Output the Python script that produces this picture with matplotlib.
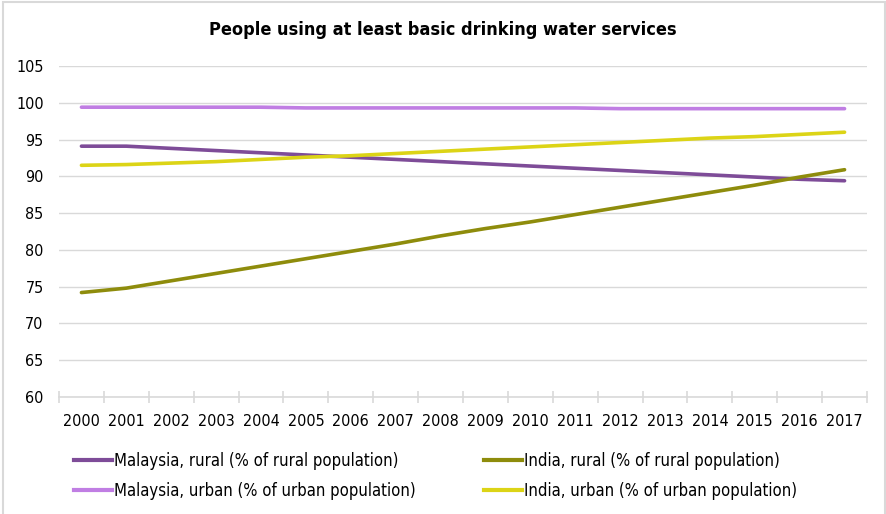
import numpy as np
import matplotlib
matplotlib.use("Agg")
from matplotlib import pyplot as plt
from matplotlib.patches import Rectangle
from matplotlib.lines import Line2D

plt.rcParams['font.family'] = ['DejaVu Sans']
plt.rcParams['font.stretch'] = 'condensed'

years = list(range(2000, 2018))
malaysia_rural = [94.1, 94.1, 93.8, 93.5, 93.2, 92.9, 92.6, 92.3, 92.0,
                  91.7, 91.4, 91.1, 90.8, 90.5, 90.2, 89.9, 89.6, 89.4]
malaysia_urban = [99.4, 99.4, 99.4, 99.4, 99.4, 99.3, 99.3, 99.3, 99.3,
                  99.3, 99.3, 99.3, 99.2, 99.2, 99.2, 99.2, 99.2, 99.2]
india_rural = [74.2, 74.8, 75.8, 76.8, 77.8, 78.8, 79.8, 80.8, 81.9,
               82.9, 83.8, 84.8, 85.8, 86.8, 87.8, 88.8, 89.9, 90.9]
india_urban = [91.5, 91.6, 91.8, 92.0, 92.3, 92.6, 92.8, 93.1, 93.4,
               93.7, 94.0, 94.3, 94.6, 94.9, 95.2, 95.4, 95.7, 96.0]

labels = ["Malaysia, rural (% of rural population)",
          "Malaysia, urban (% of urban population)",
          "India, rural (% of rural population)",
          "India, urban (% of urban population)"]
colors = ["#7E4C98", "#C07EE3", "#8E8C0C", "#DCD416"]
series = [malaysia_rural, malaysia_urban, india_rural, india_urban]

W, H = 886, 514
fig = plt.figure(figsize=(W / 100, H / 100), dpi=100)
# frame around the chart (bottom edge is cut off)
fig.add_artist(Rectangle((3 / W, -0.05), (885 - 3) / W, 1.05 - 1.5 / H,
                         transform=fig.transFigure, fill=False,
                         edgecolor="#D9D9D9", lw=1.5))

ax = fig.add_axes([59 / W, 1 - 397 / H, (867 - 59) / W, (397 - 66) / H])
x = np.arange(len(years))
for vals, c in zip(series, colors):
    ax.plot(x, vals, color=c, lw=2.6, solid_capstyle="round")

ax.set_xlim(-0.5, len(years) - 0.5)
ax.set_ylim(60, 105)
ax.set_yticks(range(60, 106, 5))
ax.set_xticks(x)
ax.set_xticklabels([str(y) for y in years])
ax.set_xticks(np.arange(-0.5, len(years), 1), minor=True)
ax.grid(axis="y", color="#D9D9D9", lw=1)
ax.set_axisbelow(True)
for s in ["top", "right", "left"]:
    ax.spines[s].set_visible(False)
ax.spines["bottom"].set_color("#D9D9D9")
ax.spines["bottom"].set_linewidth(1.2)
ax.tick_params(axis="y", length=0, pad=11, labelsize=11.5)
ax.tick_params(axis="x", which="major", length=0, pad=12, labelsize=11.5)
ax.tick_params(axis="x", which="minor", direction="inout", length=9,
               color="#D9D9D9", width=1.2)

fig.text(0.5, 1 - 30 / H, "People using at least basic drinking water services",
         ha="center", va="center", fontsize=13, fontweight="bold")

# legend: two columns placed separately
hs = [Line2D([], [], color=c, lw=3) for c in colors]
fig.legend(hs[:2], labels[:2], loc="center left",
           bbox_to_anchor=(71 / W, 1 - 476 / H), frameon=False,
           fontsize=12, handlelength=2.25, handletextpad=0.1,
           labelspacing=0.7, borderaxespad=0, borderpad=0.2)
fig.legend(hs[2:], labels[2:], loc="center left",
           bbox_to_anchor=(481 / W, 1 - 476 / H), frameon=False,
           fontsize=12, handlelength=2.25, handletextpad=0.1,
           labelspacing=0.7, borderaxespad=0, borderpad=0.2)

fig.savefig("out.png", dpi=100)
